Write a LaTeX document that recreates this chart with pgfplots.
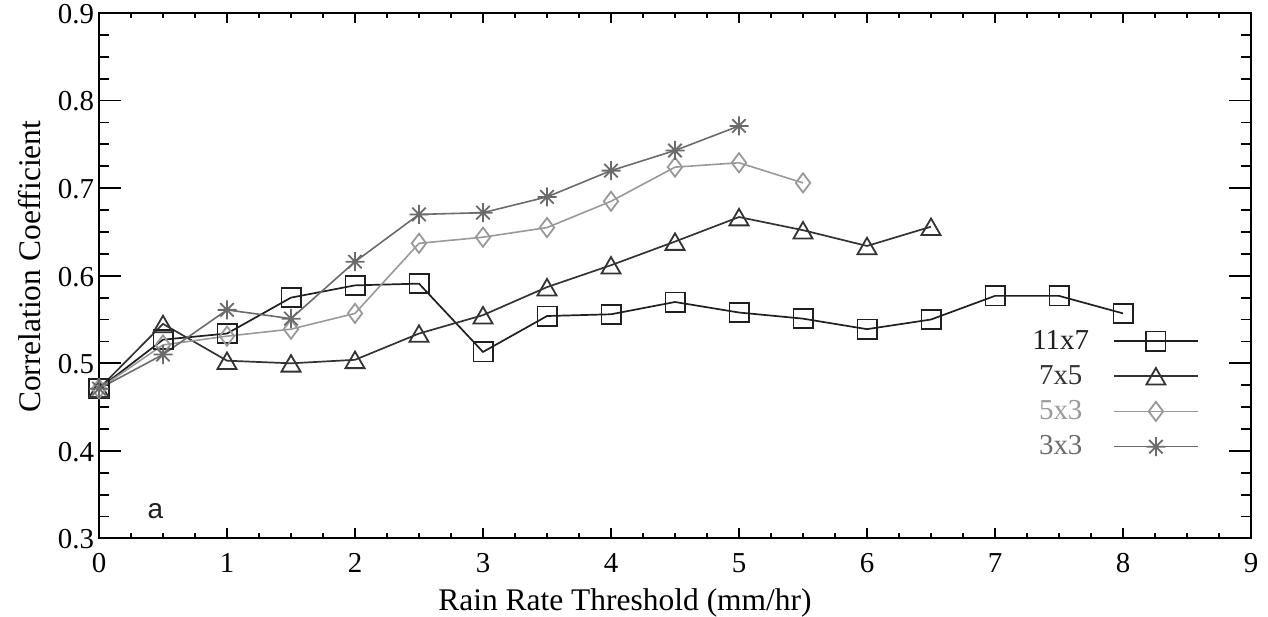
\documentclass[border=0pt]{standalone}
\usepackage{pgfplots}
\pgfplotsset{compat=1.18}
\usepackage{fontspec}
\setmainfont{Liberation Serif}
\newfontfamily\sansf{Liberation Sans}
\definecolor{cA}{gray}{0.12}
\definecolor{cB}{gray}{0.2}
\definecolor{cC}{gray}{0.6}
\definecolor{cD}{gray}{0.42}
\pgfdeclareplotmark{ast8}{%
  \pgfpathmoveto{\pgfqpoint{-\pgfplotmarksize}{0pt}}\pgfpathlineto{\pgfqpoint{\pgfplotmarksize}{0pt}}%
  \pgfpathmoveto{\pgfqpoint{0pt}{-\pgfplotmarksize}}\pgfpathlineto{\pgfqpoint{0pt}{\pgfplotmarksize}}%
  \pgfpathmoveto{\pgfqpoint{-0.7071\pgfplotmarksize}{-0.7071\pgfplotmarksize}}\pgfpathlineto{\pgfqpoint{0.7071\pgfplotmarksize}{0.7071\pgfplotmarksize}}%
  \pgfpathmoveto{\pgfqpoint{-0.7071\pgfplotmarksize}{0.7071\pgfplotmarksize}}\pgfpathlineto{\pgfqpoint{0.7071\pgfplotmarksize}{-0.7071\pgfplotmarksize}}%
  \pgfusepathqstroke
}
\begin{document}
\begin{tikzpicture}
\begin{axis}[
  width=576bp, height=262.75bp, scale only axis,
  xmin=0, xmax=9, ymin=0.3, ymax=0.9,
  xtick={0,1,2,3,4,5,6,7,8,9},
  ytick={0.3,0.4,0.5,0.6,0.7,0.8,0.9},
  minor x tick num=3, minor y tick num=3,
  tick align=inside, tick pos=both,
  axis line style={line width=1bp},
  every tick/.style={black, line width=0.9bp},
  major tick length=11bp, minor tick length=5bp,
  xtick style={/pgfplots/major tick length=5bp,/pgfplots/minor tick length=2.5bp},
  /pgf/number format/assume math mode=true,
  tick label style={font=\fontsize{14.5}{17}\selectfont},
  y tick label style={/pgf/number format/.cd, fixed, fixed zerofill, precision=1, /tikz/.cd, xshift=1bp, yshift=-0.5bp},
  x tick label style={yshift=-4bp},
  xlabel={Rain Rate Threshold (mm/hr)},
  ylabel={Correlation Coefficient},
  label style={font=\fontsize{15.8}{18}\selectfont},
  xlabel style={at={(axis description cs:0.4566,0)}, anchor=base, yshift=-36bp},
  ylabel style={at={(axis description cs:-0.0512,0.517)}, anchor=base},
  legend plot pos=right,
  legend cell align=center,
  legend image code/.code={\draw[mark repeat=2,mark phase=2] plot coordinates {(0bp,0bp) (21bp,0bp) (42bp,0bp)};},
  legend style={draw=none, fill=none, inner sep=0pt, row sep=2.6bp,
    at={(axis description cs:0.955,0.405)}, anchor=north east,
    font=\fontsize{14.5}{16}\selectfont,
    /tikz/every odd column/.append style={column sep=10bp}},
]
\addplot[color=cA, line width=0.85bp, mark=square, mark size=4.8bp, mark options={solid, line width=0.9bp}] coordinates {
(0,0.471) (0.5,0.527) (1.0,0.534) (1.5,0.575) (2.0,0.589) (2.5,0.591) (3.0,0.513) (3.5,0.554) (4.0,0.556) (4.5,0.570) (5.0,0.558) (5.5,0.551) (6.0,0.539) (6.5,0.550) (7.0,0.577) (7.5,0.577) (8.0,0.557)};
\addlegendentry{\textcolor{cA}{11x7}}
\addplot[color=cB, line width=0.85bp, mark=triangle, mark size=5.5bp, mark options={solid, line width=0.9bp, yshift=-1.4bp}] coordinates {
(0,0.471) (0.5,0.545) (1.0,0.503) (1.5,0.500) (2.0,0.504) (2.5,0.534) (3.0,0.555) (3.5,0.587) (4.0,0.612) (4.5,0.639) (5.0,0.667) (5.5,0.652) (6.0,0.634) (6.5,0.656)};
\addlegendentry{\textcolor{cB}{7x5}}
\addplot[color=cC, line width=0.8bp, mark=diamond, mark size=4.8bp, mark options={solid, line width=0.9bp}] coordinates {
(0,0.471) (0.5,0.521) (1.0,0.531) (1.5,0.539) (2.0,0.557) (2.5,0.637) (3.0,0.644) (3.5,0.655) (4.0,0.685) (4.5,0.724) (5.0,0.729) (5.5,0.706)};
\addlegendentry{\textcolor{cC}{5x3}}
\addplot[color=cD, line width=0.8bp, mark=ast8, mark size=4.75bp, mark options={solid, line width=0.9bp}] coordinates {
(0,0.471) (0.5,0.510) (1.0,0.561) (1.5,0.551) (2.0,0.616) (2.5,0.670) (3.0,0.672) (3.5,0.690) (4.0,0.720) (4.5,0.743) (5.0,0.771)};
\addlegendentry{\textcolor{cD}{3x3}}
\node[font=\sansf\fontsize{14}{16}\selectfont, text=cA] at (axis cs:0.44,0.331) {a};
\end{axis}
\pgfresetboundingbox
\path[use as bounding box] ([shift={(-49.5bp,-39.25bp)}]current axis.south west) rectangle ([shift={(8.5bp,6.5bp)}]current axis.north east);
\end{tikzpicture}
\end{document}
